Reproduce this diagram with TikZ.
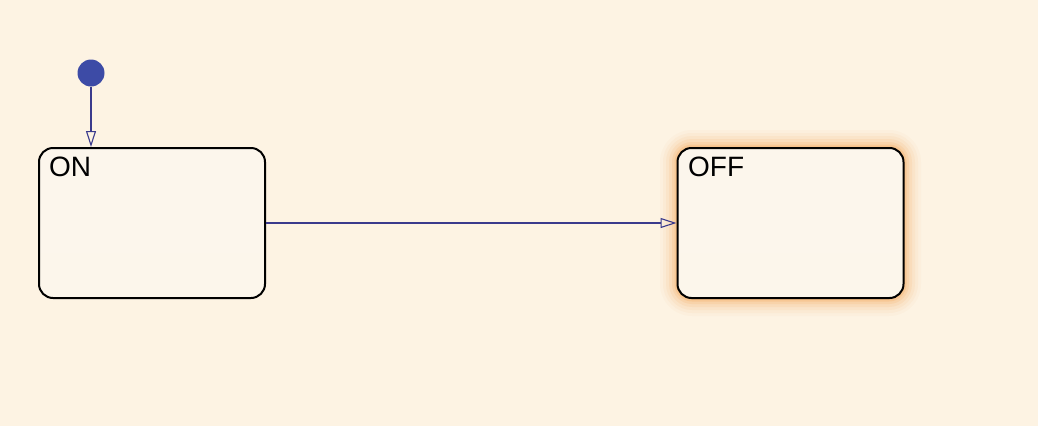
\documentclass[tikz,border=0pt]{standalone}
\usepackage{fontspec}
\setmainfont{Liberation Sans}
\usetikzlibrary{arrows.meta}
\definecolor{bg}{HTML}{FDF3E3}
\definecolor{boxfill}{HTML}{FCF6EC}
\definecolor{wire}{HTML}{3A3A8C}
\definecolor{dot}{HTML}{3D4BA6}
\definecolor{glow}{HTML}{F5A04A}
\tikzset{
  state/.style={draw=black, line width=2pt, rounded corners=14pt, minimum width=226pt, minimum height=150pt, inner sep=0pt, top color=boxfill, bottom color=boxfill!92!bg},
  statelabel/.style={anchor=north west, font=\fontsize{28}{28}\selectfont, inner sep=0pt},
  trans/.style={draw=wire, line width=1.1pt, -{Triangle[open, length=16pt, width=10pt, line width=1.1pt]}},
  initdot/.style={circle, fill=dot, minimum size=27pt, inner sep=0pt}
}
\begin{document}
\begin{tikzpicture}[x=1pt,y=-1pt]
\fill[bg] (0,0) rectangle (1038,426);
\useasboundingbox (0,0) rectangle (1038,426);
% glow around OFF
\foreach \d/\o in {18/0.04,15/0.06,12/0.08,9/0.11,6/0.15,3.5/0.22,1.5/0.3}{
  \fill[glow, opacity=\o, rounded corners=14pt+\d pt] (678-\d,148-\d) rectangle (903+\d,298+\d);
}
\node[state] (on) at (152,223) {};
\node[state] (off) at (790.5,223) {};
\node[statelabel] (onl) at (49,157) {ON};
\node[statelabel] (offl) at (688,157) {OFF};
\node[initdot] (init) at (91,73) {};
\draw[trans] (init) -- (on.north -| init);
\draw[trans] (on.east) -- (off.west);
\end{tikzpicture}
\end{document}
